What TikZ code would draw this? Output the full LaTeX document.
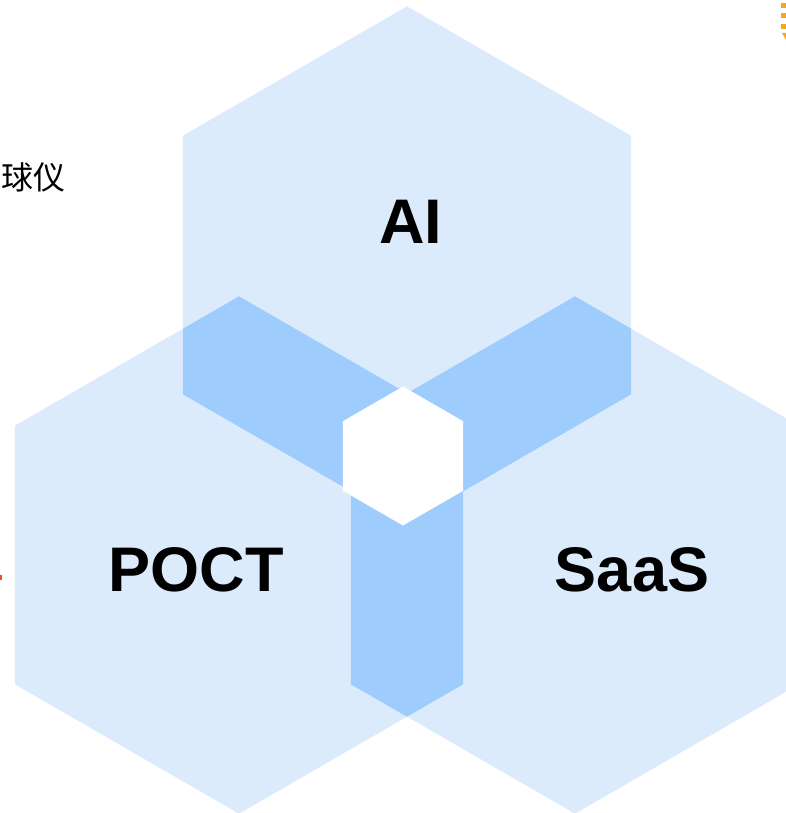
\documentclass[tikz,border=0pt]{standalone}
\usepackage{fontspec}
\setmainfont{Liberation Sans}
\newfontfamily\cjk{Noto Sans CJK SC}
\definecolor{hexlight}{HTML}{DCEBFC}
\definecolor{hexdark}{HTML}{9ECCFD}
\definecolor{mkorange}{HTML}{F5A623}
\definecolor{mkred}{HTML}{E8541E}
\newcommand\hexp[3]{(#1,{#2-#3}) -- ({#1+0.8660254*#3},{#2-0.5*#3}) -- ({#1+0.8660254*#3},{#2+0.5*#3}) -- (#1,{#2+#3}) -- ({#1-0.8660254*#3},{#2+0.5*#3}) -- ({#1-0.8660254*#3},{#2-0.5*#3}) -- cycle}
\begin{document}
\begin{tikzpicture}[x=1pt,y=-1pt,
  label/.style={font=\bfseries\fontsize{63}{63}\selectfont, inner sep=0pt, text=black}]
\useasboundingbox (0,0) rectangle (786,813);
\clip (0,0) rectangle (786,813);
% light hexagons
\fill[hexlight] \hexp{407}{265}{258.7};
\fill[hexlight] \hexp{239}{555}{258.7};
\fill[hexlight] \hexp{575}{555}{258.7};
% overlaps
\begin{scope}
  \clip \hexp{407}{265}{258.7};
  \fill[hexdark] \hexp{239}{555}{258.7};
  \fill[hexdark] \hexp{575}{555}{258.7};
\end{scope}
\begin{scope}
  \clip \hexp{239}{555}{258.7};
  \fill[hexdark] \hexp{575}{555}{258.7};
\end{scope}
% white centre
\fill[white] \hexp{403}{456}{69.5};
% labels
\node[label] (ai) at (411,222) {AI};
\node[label] (poct) at (196,570) {POCT};
\node[label] (saas) at (632,570) {SaaS};
% cut-off text and marks
\node[font=\cjk\fontsize{32}{32}\selectfont, inner sep=0pt, anchor=east] (txt) at (66,177) {球仪};
\fill[mkorange] (781,3) rectangle (786,8);
\fill[mkorange] (781,13) rectangle (786,18);
\fill[mkorange] (781,24) rectangle (786,29);
\fill[mkorange] (782,33) -- (786,33) -- (786,40) -- cycle;
\fill[mkred] (0,575) rectangle (1.5,580);
\end{tikzpicture}
\end{document}
